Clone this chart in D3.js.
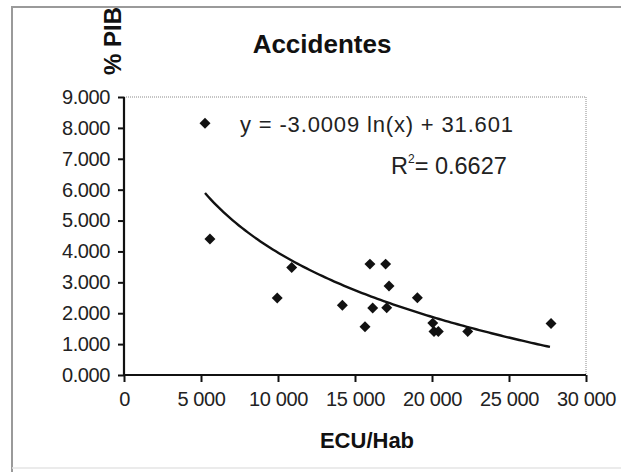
<!DOCTYPE html>
<html>
  <head>
    <title>accidentes</title>
    <style>
      html,
      body {
        padding: 0;
        margin: 0;
        background: #fff;
        font-family: 'Liberation Sans', Arial, Helvetica, sans-serif;
      }
      svg {
        display: block;
      }
    </style>
  </head>
  <body>
    <svg width="621" height="472"></svg>

    <script src="https://cdn.jsdelivr.net/npm/d3@7"></script>
    <script>
      // ECU/Hab (x) and % PIB (y)
      const ecuHab = [5260, 5580, 9950, 10890, 14180, 15650, 15970, 16150, 16990, 17060, 17210, 19050, 20050, 20130, 20410, 22320, 27730];
      const pctPib = [8.15, 4.4, 2.49, 3.48, 2.26, 1.56, 3.59, 2.17, 3.59, 2.18, 2.88, 2.5, 1.68, 1.41, 1.41, 1.41, 1.67];
      const xTicks = [0, 5000, 10000, 15000, 20000, 25000, 30000];
      const yTicks = [0, 1, 2, 3, 4, 5, 6, 7, 8, 9];
      // trend line y = a ln(x) + b, as printed on the chart
      const trendA = -3.0009;
      const trendB = 31.601;
    </script>
    <script>
      const svg = d3.select('svg');
      const W = 621, H = 472;

      // outer frame
      svg.append('rect').attr('width', W).attr('height', H).attr('fill', '#fff');
      svg.append('path')
        .attr('d', `M12,472 L12,7 L621,7`)
        .attr('fill', 'none').attr('stroke', '#9a9a9a').attr('stroke-width', 2);
      svg.append('line')
        .attr('x1', 12).attr('x2', 621).attr('y1', 468).attr('y2', 468)
        .attr('stroke', '#e4e4e4').attr('stroke-width', 1.5);

      const x = d3.scaleLinear().domain([0, 30000]).range([124, 586]);
      const y = d3.scaleLinear().domain([0, 9]).range([375, 97]);

      // plot area border (dotted top / right)
      svg.append('path')
        .attr('d', `M${x(0)},${y(9)} L${x(30000)},${y(9)} L${x(30000)},${y(0)}`)
        .attr('fill', 'none').attr('stroke', '#8a8a8a').attr('stroke-width', 1)
        .attr('stroke-dasharray', '1,1');

      const fmtX = (d) => d === 0 ? '0' : (d / 1000) + ' 000';
      const fmtY = (d) => d3.format('.3f')(d);

      const xAxis = svg.append('g')
        .attr('transform', `translate(0,${y(0)})`)
        .call(d3.axisBottom(x).tickValues(xTicks).tickFormat(fmtX).tickSize(7).tickPadding(10));
      const yAxis = svg.append('g')
        .attr('transform', `translate(${x(0)},0)`)
        .call(d3.axisLeft(y).tickValues(yTicks).tickFormat(fmtY).tickSize(6).tickPadding(8));

      [xAxis, yAxis].forEach((g) => {
        g.select('.domain').attr('stroke', '#111').attr('stroke-width', 2.2);
        g.selectAll('.tick line').attr('stroke', '#111').attr('stroke-width', 2);
        g.selectAll('.tick text')
          .attr('fill', '#222')
          .style('font-family', "'Liberation Sans', Arial, sans-serif")
          .style('font-size', '20px')
          .style('letter-spacing', '-0.4px');
      });
      xAxis.selectAll('.domain').attr('d', `M${x(0)},0H${x(30000)}`);
      yAxis.selectAll('.domain').attr('d', `M0,${y(0)}V${y(9)}`);

      // trend line
      const trendX = d3.range(d3.min(ecuHab), d3.max(ecuHab) + 1, 200);
      const line = d3.line()
        .x((d) => x(d))
        .y((d) => y(trendA * Math.log(d) + trendB));
      svg.append('path')
        .datum(trendX)
        .attr('d', line)
        .attr('fill', 'none')
        .attr('stroke', '#111')
        .attr('stroke-width', 2.4);

      // points (diamonds)
      const diamond = d3.symbol().type(d3.symbolSquare).size(60);
      svg.append('g')
        .selectAll('path')
        .data(ecuHab.map((v, i) => [v, pctPib[i]]))
        .join('path')
        .attr('d', diamond)
        .attr('transform', (d) => `translate(${x(d[0])},${y(d[1])}) rotate(45)`)
        .attr('fill', '#111');

      // titles
      svg.append('text')
        .attr('x', 322).attr('y', 53)
        .attr('text-anchor', 'middle')
        .attr('font-weight', 'bold').attr('font-size', 26)
        .attr('fill', '#111')
        .text('Accidentes');

      svg.append('text')
        .attr('transform', 'translate(121,75) rotate(-90)')
        .attr('text-anchor', 'start')
        .attr('font-weight', 'bold').attr('font-size', 24)
        .attr('fill', '#111')
        .text('% PIB');

      svg.append('text')
        .attr('x', 367).attr('y', 448)
        .attr('text-anchor', 'middle')
        .attr('font-weight', 'bold').attr('font-size', 22)
        .attr('fill', '#111')
        .text('ECU/Hab');

      // equation labels
      svg.append('text')
        .attr('x', 240).attr('y', 132)
        .attr('font-size', 22).attr('fill', '#222')
        .attr('textLength', 273)
        .attr('lengthAdjust', 'spacing')
        .text('y = -3.0009 ln(x) + 31.601');

      const r2 = svg.append('text')
        .attr('x', 391).attr('y', 174)
        .attr('font-size', 23.5).attr('fill', '#222');
      r2.append('tspan').text('R');
      r2.append('tspan').attr('font-size', 12).attr('dy', -11).text('2');
      r2.append('tspan').attr('dy', 11).text('= 0.6627');
    </script>
  </body>
</html>
